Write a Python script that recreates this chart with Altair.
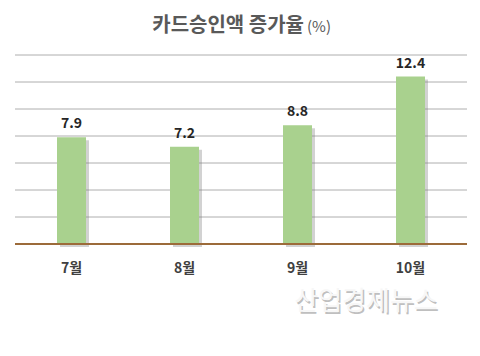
import altair as alt
import pandas as pd

months = ["7월", "8월", "9월", "10월"]
values = [7.9, 7.2, 8.8, 12.4]
labels = ["7.9", "7.2", "8.8", "12.4"]
grid_values = [2, 4, 6, 8, 10, 12, 14]
title_main = "카드승인액 증가율"
title_unit = "(%)"
watermark = "산업경제뉴스"

df = pd.DataFrame({"month": months, "value": values, "label": labels})
FONT = "Noto Sans CJK KR"

x = alt.X("month:N", sort=months, title=None,
          scale=alt.Scale(paddingInner=0, paddingOuter=0),
          axis=alt.Axis(labelAngle=0, ticks=False, domain=False, labelPadding=17,
                        labelFont=FONT, labelFontSize=14, labelFontWeight="bold",
                        labelColor="#404040", grid=False))
y = alt.Y("value:Q", title=None,
          scale=alt.Scale(domain=[0, 14], nice=False),
          axis=alt.Axis(values=[0], labels=False, ticks=False,
                        domain=False, grid=False))

base = alt.Chart(df)

grids = [base.mark_rule(color="#d4d4d4", strokeWidth=1).encode(
    y=alt.datum(g), x=alt.value(0), x2=alt.value(452)) for g in grid_values]
shadow = base.mark_bar(size=29, color="#7f7f7f", opacity=0.35, xOffset=3, yOffset=3).encode(
    x=x, y=y)
bars = base.mark_bar(size=29, color="#a9d18e").encode(x=x, y=y)
text = base.mark_text(font=FONT, fontSize=14, fontWeight="bold", color="#262626",
                      baseline="bottom", dy=-6).encode(x=x, y=y, text="label:N")
baseline = base.mark_rule(color="#9c6b3a", strokeWidth=2).encode(
    y=alt.datum(0), x=alt.value(0), x2=alt.value(452))

t1 = alt.Chart(pd.DataFrame({"t": [title_main]})).mark_text(
    font=FONT, fontSize=20, fontWeight="bold", color="#595959", align="right",
    baseline="alphabetic").encode(text="t:N", x=alt.value(289), y=alt.value(-23))
t2 = alt.Chart(pd.DataFrame({"t": [title_unit]})).mark_text(
    font=FONT, fontSize=15, color="#595959", align="left",
    baseline="alphabetic").encode(text="t:N", x=alt.value(292), y=alt.value(-23))
wm_shadow = alt.Chart(pd.DataFrame({"t": [watermark]})).mark_text(
    font=FONT, fontSize=26, color="#bfbfbf", align="center", baseline="middle",
    dx=1.5, dy=1.5).encode(text="t:N", x=alt.value(351), y=alt.value(247))
wm = alt.Chart(pd.DataFrame({"t": [watermark]})).mark_text(
    font=FONT, fontSize=26, color="#f7f7f7", align="center", baseline="middle"
).encode(text="t:N", x=alt.value(351), y=alt.value(247))

chart = alt.layer(*grids, shadow, bars, baseline, text, t1, t2, wm_shadow, wm).properties(
    width=452, height=189,
    autosize=alt.AutoSizeParams(type="none"),
    padding={"left": 7, "top": 47, "right": 5, "bottom": 90},
    background="white",
).configure_view(stroke=None)

chart.save("out.html", embed_options={"renderer": "svg", "actions": False})
